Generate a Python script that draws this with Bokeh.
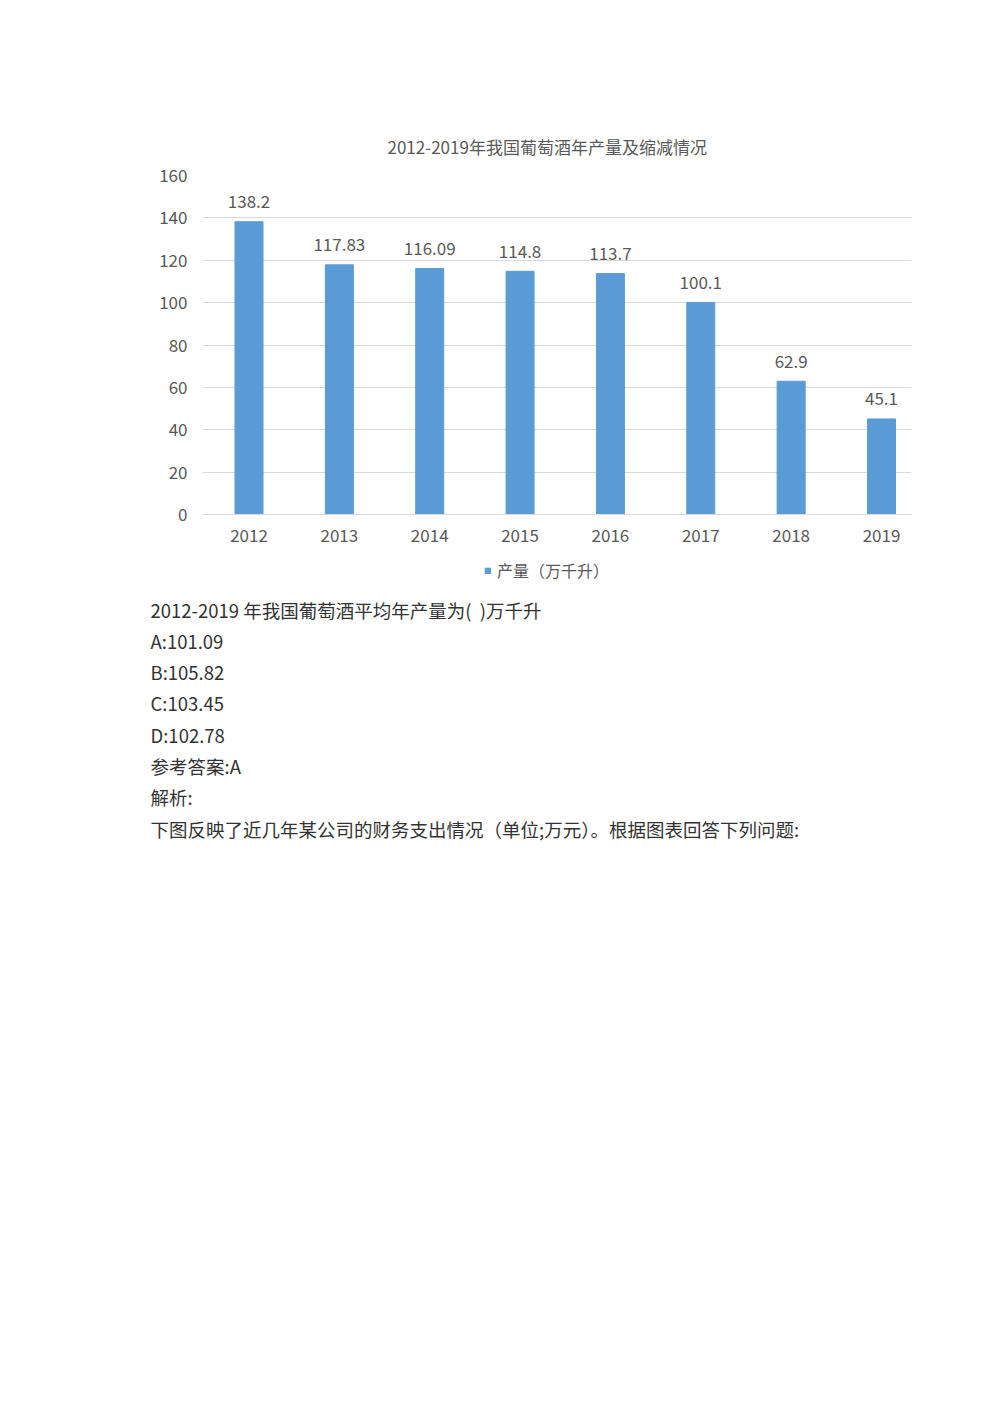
from bokeh.core.properties import value
from bokeh.embed import file_html
from bokeh.models import (ColumnDataSource, FixedTicker, Legend, LegendItem,
                          Range1d, Title)
from bokeh.plotting import figure
from bokeh.resources import INLINE

years = ["2012", "2013", "2014", "2015", "2016", "2017", "2018", "2019"]
output = [138.2, 117.83, 116.09, 114.8, 113.7, 100.1, 62.9, 45.1]
output_labels = ["138.2", "117.83", "116.09", "114.8", "113.7", "100.1", "62.9", "45.1"]
y_ticks = [0, 20, 40, 60, 80, 100, 120, 140, 160]

chart_title = "2012-2019年我国葡萄酒年产量及缩减情况"
legend_label = "产量（万千升）"

question_lines = [
    "2012-2019 年我国葡萄酒平均年产量为(\u00a0\u00a0)万千升",
    "A:101.09",
    "B:105.82",
    "C:103.45",
    "D:102.78",
    "参考答案:A",
    "解析:",
    "下图反映了近几年某公司的财务支出情况（单位;万元）。根据图表回答下列问题:",
]

FONT = "Noto Sans CJK SC"
BAR = "#5B9BD5"
GREY = "#595959"
GRID = "#d9d9d9"

idx = list(range(len(years)))
src = ColumnDataSource(dict(x=idx, year=years, y=output, lab=output_labels))

p = figure(width=984, height=558, output_backend="svg", toolbar_location=None,
           x_range=Range1d(-0.5146, 7.332), y_range=Range1d(0, 160),
           min_border_left=202, min_border_right=73,
           min_border_top=175, min_border_bottom=44)
p.outline_line_color = None

bars = p.vbar(x="x", top="y", width=0.31, bottom=0, source=src,
              fill_color=BAR, line_color=BAR)

p.text(x="x", y="y", text="lab", source=src, text_align="center",
       text_baseline="middle", y_offset=-20, text_color=GREY,
       text_font=value(FONT), text_font_size="17px")

# axes
p.xaxis.ticker = FixedTicker(ticks=idx)
p.xaxis.major_label_overrides = {i: y for i, y in zip(idx, years)}
p.xaxis.axis_line_color = GRID
p.xaxis.major_tick_line_color = None
p.xaxis.minor_tick_line_color = None
p.xaxis.major_tick_out = 0
p.xaxis.minor_tick_out = 0
p.xaxis.major_label_standoff = 14
p.xaxis.major_label_text_color = GREY
p.xaxis.major_label_text_font = FONT
p.xaxis.major_label_text_font_size = "17px"

p.yaxis.ticker = FixedTicker(ticks=y_ticks)
p.yaxis.axis_line_color = None
p.yaxis.major_tick_line_color = None
p.yaxis.minor_tick_line_color = None
p.yaxis.major_tick_out = 0
p.yaxis.minor_tick_out = 0
p.yaxis.major_label_standoff = 15
p.yaxis.major_label_text_color = GREY
p.yaxis.major_label_text_font = FONT
p.yaxis.major_label_text_font_size = "17px"

p.xgrid.grid_line_color = None
p.ygrid.ticker = FixedTicker(ticks=y_ticks)
p.ygrid.grid_line_color = GRID
p.ygrid.grid_line_width = 1.2

p.add_layout(Title(text=chart_title, align="left", offset=185, standoff=34,
                   text_color=GREY, text_font=FONT, text_font_size="17px",
                   text_font_style="normal"), "above")

# legend + question text: a second, plain figure right under the chart
t = figure(width=984, height=296, output_backend="svg", toolbar_location=None,
           x_range=Range1d(0, 984), y_range=Range1d(296, 0), min_border=0)
t.axis.visible = False
t.grid.visible = False
t.outline_line_color = None

# hidden copy of the bars, only used to paint the legend swatch
swatch = t.vbar(x="x", top="y", width=0.31, source=src,
                fill_color=BAR, line_color=BAR, visible=False)
legend = Legend(items=[LegendItem(label=legend_label, renderers=[swatch])],
                location=(484, 272), orientation="horizontal",
                glyph_width=7, glyph_height=7, label_standoff=6,
                label_text_font=FONT, label_text_font_size="16px",
                label_text_color=GREY, padding=0, margin=0,
                border_line_color=None, background_fill_alpha=0)
t.add_layout(legend, "center")

qsrc = ColumnDataSource(dict(
    x=[150] * len(question_lines),
    y=[51 + 31.3 * i for i in range(len(question_lines))],
    txt=question_lines))
t.text(x="x", y="y", text="txt", source=qsrc, text_align="left",
       text_baseline="middle", text_color="#333333",
       text_font=value(FONT), text_font_size="18.5px")

open("out.html", "w").write(file_html([p, t], INLINE))
